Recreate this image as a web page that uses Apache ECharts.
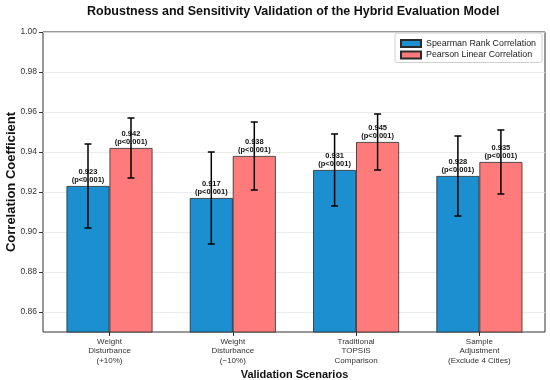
<!DOCTYPE html>
<html>
<head>
<meta charset="utf-8">
<script src="https://cdn.jsdelivr.net/npm/echarts@6/dist/echarts.min.js"></script>
<style>html,body{margin:0;padding:0;background:#fff}#c{width:550px;height:380px}</style>
</head>
<body>
<div id="c"></div>
<script>
const categories = ['Weight\nDisturbance\n(+10%)', 'Weight\nDisturbance\n(\u221210%)', 'Traditional\nTOPSIS\nComparison', 'Sample\nAdjustment\n(Exclude 4 Cities)'];
const spearman = [0.923, 0.917, 0.931, 0.928];
const spearmanErr = [0.021, 0.023, 0.018, 0.020];
const pearson = [0.942, 0.938, 0.945, 0.935];
const pearsonErr = [0.015, 0.017, 0.014, 0.016];
const yTicks = [0.86, 0.88, 0.90, 0.92, 0.94, 0.96, 0.98, 1.00];
const seriesNames = ['Spearman Rank Correlation', 'Pearson Linear Correlation'];
const pLabel = '(p<0.001)';

const FONT = 'Liberation Sans, Arial, sans-serif';
const BLUE = '#1b8fd0', RED = '#ff7b7b';
const BAR_W = 43;

function errData(vals, errs) { return vals.map((v, i) => [i, v - errs[i], v + errs[i]]); }
function errSeries(vals, errs, off) {
  return {
    type: 'custom', xAxisIndex: 1, yAxisIndex: 1, z: 5,
    data: errData(vals, errs),
    renderItem: function (params, api) {
      const lo = api.coord([api.value(0), api.value(1)]);
      const hi = api.coord([api.value(0), api.value(2)]);
      const x = lo[0] + off, cap = 3.5;
      const st = { stroke: '#000', lineWidth: 1.5 };
      return { type: 'group', children: [
        { type: 'line', shape: { x1: x, y1: lo[1], x2: x, y2: hi[1] }, style: st },
        { type: 'line', shape: { x1: x - cap, y1: lo[1], x2: x + cap, y2: lo[1] }, style: st },
        { type: 'line', shape: { x1: x - cap, y1: hi[1], x2: x + cap, y2: hi[1] }, style: st }
      ]};
    }
  };
}
const barLabel = {
  show: true, position: 'top', distance: 2,
  formatter: p => p.value.toFixed(3) + '\n' + pLabel,
  fontFamily: FONT, fontSize: 7.5, fontWeight: 'bold', color: '#111', lineHeight: 8
};

const chart = echarts.init(document.getElementById('c'), null, { renderer: 'canvas' });
chart.setOption({
  animation: false,
  backgroundColor: '#fff',
  title: {
    text: 'Robustness and Sensitivity Validation of the Hybrid Evaluation Model',
    left: 82, top: 0,
    textStyle: { fontFamily: FONT, fontSize: 12.5, fontWeight: 'bold', color: '#111' }
  },
  legend: {
    orient: 'vertical', left: 395, top: 33,
    data: seriesNames,
    itemWidth: 20, itemHeight: 7, itemGap: 2.5,
    padding: [6, 6, 3, 5],
    backgroundColor: '#fff', borderColor: '#d0d0d0', borderWidth: 1, borderRadius: 2,
    textStyle: { fontFamily: FONT, fontSize: 8.9, color: '#222' },
    icon: 'rect'
  },
  grid: [
    { left: 43, top: 32, width: 502, height: 300, show: true, borderColor: '#333', borderWidth: 1, backgroundColor: 'transparent', outerBoundsMode: 'none', containLabel: false },
    { left: 47.85, top: 32, width: 493.2, height: 300, outerBoundsMode: 'none', containLabel: false }
  ],
  xAxis: [
    { gridIndex: 0, type: 'value', show: false, min: 0, max: 1 },
    {
      gridIndex: 1, type: 'category', data: categories,
      axisLine: { show: false },
      axisTick: { show: true, alignWithLabel: true, length: 4, lineStyle: { color: '#333' } },
      axisLabel: { fontFamily: FONT, fontSize: 8, color: '#333', lineHeight: 9.5, margin: 5 },
      name: 'Validation Scenarios', nameLocation: 'middle', nameGap: 37, nameMoveOverlap: false,
      nameTextStyle: { fontFamily: FONT, fontSize: 11, fontWeight: 'bold', color: '#111' }
    }
  ],
  yAxis: [
    {
      gridIndex: 0, type: 'value', min: 0.85, max: 1.0, interval: 0.01,
      axisLine: { show: false },
      axisTick: { show: true, length: 4, lineStyle: { color: '#333' }, customValues: yTicks },
      axisLabel: { fontFamily: FONT, fontSize: 8.5, color: '#333', margin: 6, customValues: yTicks, formatter: v => v.toFixed(2) },
      splitLine: { show: true, lineStyle: { color: '#e6e6e6', width: 0.8 } },
      name: 'Correlation Coefficient', nameLocation: 'middle', nameGap: 25, nameMoveOverlap: false,
      nameTextStyle: { fontFamily: FONT, fontSize: 13, fontWeight: 'bold', color: '#111' }
    },
    { gridIndex: 1, type: 'value', min: 0.85, max: 1.0, show: false }
  ],
  series: [
    {
      name: seriesNames[0], type: 'bar', xAxisIndex: 1, yAxisIndex: 1,
      data: spearman, barWidth: BAR_W, barGap: '0%',
      itemStyle: { color: BLUE, borderColor: '#2a2a2a', borderWidth: 0.8 },
      label: barLabel
    },
    {
      name: seriesNames[1], type: 'bar', xAxisIndex: 1, yAxisIndex: 1,
      data: pearson, barWidth: BAR_W, barGap: '0%',
      itemStyle: { color: RED, borderColor: '#2a2a2a', borderWidth: 0.8 },
      label: barLabel
    },
    errSeries(spearman, spearmanErr, -BAR_W / 2),
    errSeries(pearson, pearsonErr, BAR_W / 2)
  ]
});
</script>
</body>
</html>
